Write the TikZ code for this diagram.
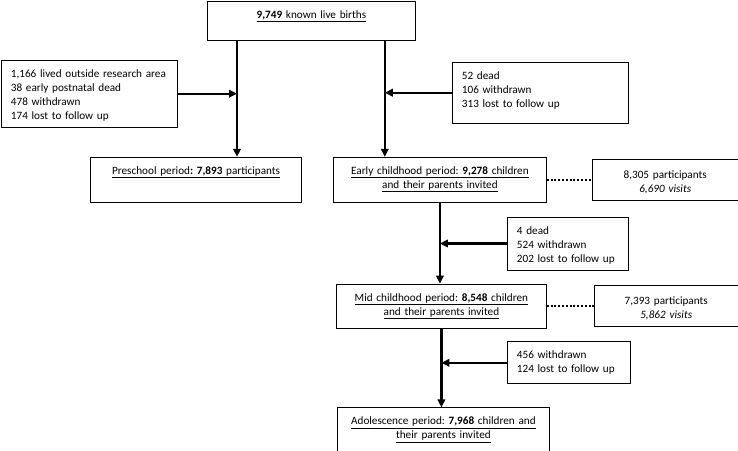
\documentclass[tikz,border=0pt]{standalone}
\usepackage{fontspec}
\setmainfont{Carlito}
\usetikzlibrary{positioning,calc,arrows.meta}

\begin{document}
\frenchspacing
\begin{tikzpicture}[x=1pt, y=1pt, node distance=20pt, font=\fontsize{11.2}{14}\selectfont]

% Define styles
\tikzstyle{stage} = [rectangle, draw=black, line width=0.8pt, inner xsep=6pt, inner ysep=4pt, text height=13pt, align=center]
\tikzstyle{side} = [stage, text height=15pt]
\tikzstyle{loss} = [rectangle, draw=black, line width=0.8pt, inner xsep=9.5pt, inner ysep=4pt, text height=13pt, align=left]
\tikzstyle{arrow} = [line width=2.2pt, -{Triangle[length=8pt, width=7.5pt]}]
\tikzstyle{dots} = [line width=2pt, dash pattern=on 2pt off 1.8pt]

\useasboundingbox (0,0) rectangle (738,-450);

% BIRTHS
\node (births) [stage, anchor=north west, text width=196pt, text depth=18pt] at (207,-1) {\underline{\textbf{9,749} known live births}};

% STUDY PERIODS
\node (early) [stage, below=116pt of births, xshift=128.5pt, text width=201pt, text depth=24pt] {\underline{Early childhood period: \textbf{9,278} children}\\\underline{and their parents invited}};
\node (preschool) [stage, left=31pt of early, text width=199pt, text depth=24pt] {\underline{Preschool period\textbf{: 7,893} participants}};
\node (mid) [stage, below=81pt of early, xshift=1.5pt, text width=198pt, text depth=23pt] {\underline{Mid childhood period: \textbf{8,548} children}\\\underline{and their parents invited}};
\node (adol) [stage, below=79pt of mid, xshift=2pt, text width=200pt, text depth=23pt] {\underline{Adolescence period: \textbf{7,968} children and}\\\underline{their parents invited}};

% Participants and visits
\node (earlyside) [side, right=45pt of early, text width=134pt, text depth=18pt] {8,305 participants\\\textit{6,690 visits}};
\node (midside) [side, right=47pt of mid, text width=132pt, text depth=18pt] {7,393 participants\\\textit{5,862 visits}};

% Losses
\node (excl1) [loss, below=19pt of births, xshift=-222pt, text width=157pt, text depth=46pt] {1,166 lived outside research area\\38 early postnatal dead\\478 withdrawn\\174 lost to follow up};
\node (excl2) [loss, below=21pt of births, xshift=229pt, text width=157pt, text depth=40pt] {52 dead\\106 withdrawn\\313 lost to follow up};
\node (excl3) [loss, below=14pt of early, xshift=128pt, text width=102pt, text depth=32pt] {4 dead\\524 withdrawn\\202 lost to follow up};
\node (excl4) [loss, below=13pt of mid, xshift=127.5pt, text width=104pt, text depth=21pt] {456 withdrawn\\124 lost to follow up};

% Flow from births
\coordinate (trunkL) at ($(births.south west)+(30,0)$);
\coordinate (trunkR) at ($(births.south east)+(-31,0)$);
\draw [arrow] (trunkL) -- (trunkL |- preschool.north);
\draw [arrow] (trunkR) -- (trunkR |- early.north);
\draw [arrow] (excl1) -- (excl1 -| trunkL);
\draw [arrow] (excl2) -- (excl2 -| trunkR);

% Flow between periods
\draw [arrow] (early.south) -- (early.south |- mid.north);
\draw [arrow] (excl3) -- (excl3 -| early.south);
\draw [arrow] (mid.south) -- (mid.south |- adol.north);
\draw [arrow] (excl4) -- (excl4 -| mid.south);

% Dotted links
\draw [dots] (early) -- (early -| earlyside.west);
\draw [dots] (mid) -- (mid -| midside.west);

\end{tikzpicture}
\end{document}
